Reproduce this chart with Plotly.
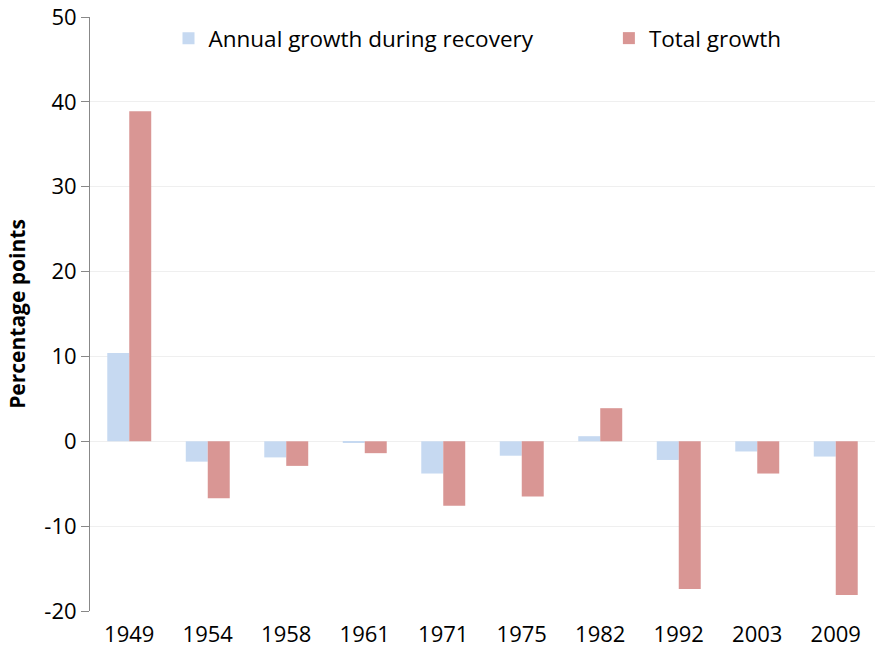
import plotly.graph_objects as go

years = ["1949", "1954", "1958", "1961", "1971", "1975", "1982", "1992", "2003", "2009"]
annual_growth = [10.4, -2.4, -1.9, -0.2, -3.8, -1.7, 0.6, -2.2, -1.2, -1.8]
total_growth = [38.9, -6.7, -2.9, -1.4, -7.6, -6.5, 3.9, -17.4, -3.8, -18.1]
y_tick_values = [-20, -10, 0, 10, 20, 30, 40, 50]
y_tick_labels = ["-20", "-10", "0", "10", "20", "30", "40", "50"]

font_family = "Open Sans, Noto Sans, sans-serif"

fig = go.Figure()
fig.add_trace(go.Bar(
    x=years, y=annual_growth, name="Annual growth during recovery",
    marker=dict(color="#c6d9f1", line=dict(width=0)),
    legend="legend",
))
fig.add_trace(go.Bar(
    x=years, y=total_growth, name="Total growth",
    marker=dict(color="#d99694", line=dict(width=0)),
    legend="legend2",
))

legend_style = dict(
    orientation="h", yanchor="top", y=1.0, xanchor="left",
    font=dict(size=22.5), bgcolor="rgba(0,0,0,0)",
)

fig.update_layout(
    width=881, height=648,
    margin=dict(l=90, r=6, t=17, b=37),
    paper_bgcolor="white", plot_bgcolor="white",
    barmode="group", bargap=0.44, bargroupgap=0,
    font=dict(family=font_family, size=22, color="#000000"),
    legend=dict(x=0.10, **legend_style),
    legend2=dict(x=0.661, **legend_style),
    showlegend=True,
)
fig.update_xaxes(
    showline=False, showgrid=False, ticks="", zeroline=False,
    tickfont=dict(size=22), ticklabelstandoff=8, automargin=False,
)
fig.update_yaxes(
    range=[-20, 50], tickvals=y_tick_values, ticktext=y_tick_labels,
    showgrid=True, gridcolor="#efefef", gridwidth=1,
    zeroline=True, zerolinecolor="#efefef", zerolinewidth=1,
    showline=True, linecolor="#888888", linewidth=1,
    ticks="outside", ticklen=8, tickcolor="#888888",
    tickfont=dict(size=22), automargin=False,
    title=dict(text="<b>Percentage points</b>", font=dict(size=21), standoff=12),
)

fig.write_html("out.html")
